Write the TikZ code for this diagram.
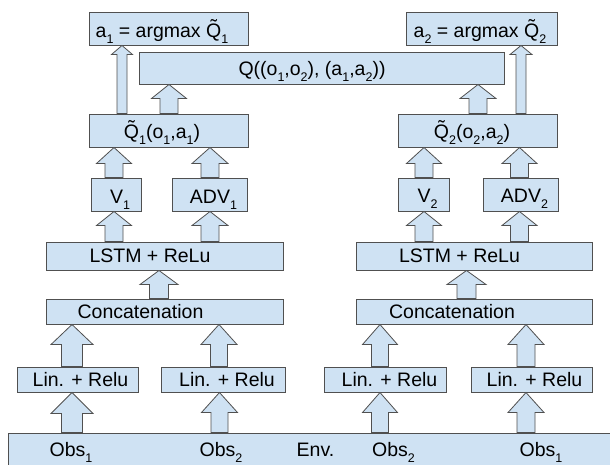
\documentclass[tikz,border=0pt]{standalone}
\usepackage{fontspec}
\setmainfont{Liberation Sans}
\usetikzlibrary{calc}
\definecolor{boxfill}{HTML}{CFE2F3}
\definecolor{boxline}{HTML}{505050}
\newcommand\sbs[1]{\raisebox{-6.5pt}{\fontsize{12.5}{13}\selectfont #1}}
\newcommand\barrow[6]{%
  \draw[blockarrow] let \p1=(#2.north), \p2=(#3.south) in
  ({#1pt-#4pt},\y1) -- ({#1pt-#4pt},\y2-#6pt) -- ({#1pt-#5pt},\y2-#6pt) -- (#1pt,\y2)
  -- ({#1pt+#5pt},\y2-#6pt) -- ({#1pt+#4pt},\y2-#6pt) -- ({#1pt+#4pt},\y1) -- cycle;}
\begin{document}
\begin{tikzpicture}[x=1pt,y=-1pt,
  box/.style={draw=boxline,fill=boxfill,line width=1pt,rectangle,inner sep=0pt},
  blockarrow/.style={draw=boxline,fill=boxfill,line width=0.8pt,line join=miter},
  txt/.style={anchor=base,inner sep=0pt,font=\fontsize{19.5}{22}\selectfont}]
\useasboundingbox (0,0) rectangle (610,464);
\clip (0,0) rectangle (610,464);
% boxes
\node[box,minimum width=159pt,minimum height=33pt] (a1) at (168.5,28.5) {};
\node[box,minimum width=151pt,minimum height=33pt] (a2) at (481.5,28.5) {};
\node[box,minimum width=365pt,minimum height=32pt] (q) at (321.5,68) {};
\node[box,minimum width=159pt,minimum height=33pt] (qt1) at (168.5,130.5) {};
\node[box,minimum width=159pt,minimum height=33pt] (qt2) at (477.5,130.5) {};
\node[box,minimum width=50pt,minimum height=33pt] (v1) at (116,194.5) {};
\node[box,minimum width=75pt,minimum height=33pt] (adv1) at (209.5,194.5) {};
\node[box,minimum width=51pt,minimum height=33pt] (v2) at (423.5,194.5) {};
\node[box,minimum width=75pt,minimum height=33pt] (adv2) at (520.5,194.5) {};
\node[box,minimum width=237pt,minimum height=28pt] (lstm1) at (164.5,256) {};
\node[box,minimum width=236pt,minimum height=28pt] (lstm2) at (474,256) {};
\node[box,minimum width=237pt,minimum height=25pt] (cat1) at (164.5,311.5) {};
\node[box,minimum width=236pt,minimum height=25pt] (cat2) at (474,311.5) {};
\node[box,minimum width=121pt,minimum height=25pt] (lin1) at (77.5,379.5) {};
\node[box,minimum width=124pt,minimum height=25pt] (lin2) at (223,379.5) {};
\node[box,minimum width=122pt,minimum height=25pt] (lin3) at (385,379.5) {};
\node[box,minimum width=121pt,minimum height=25pt] (lin4) at (531.5,379.5) {};
\node[box,minimum width=607pt,minimum height=37pt] (env) at (311.5,451.5) {};
% arrows
\barrow{122}{qt1}{a1}{5}{10.5}{9}
\barrow{169}{qt1}{q}{9}{17.5}{14}
\barrow{478}{qt2}{q}{9}{18}{14}
\barrow{521}{qt2}{a2}{5}{11}{9}
\barrow{114}{v1}{qt1}{9}{17.5}{16}
\barrow{210}{adv1}{qt1}{9}{18}{16}
\barrow{424}{v2}{qt2}{9}{17.5}{16}
\barrow{519.5}{adv2}{qt2}{9}{17.5}{16}
\barrow{114}{lstm1}{v1}{9}{17.5}{14}
\barrow{210}{lstm1}{adv1}{9}{18}{14}
\barrow{424}{lstm2}{v2}{9}{17.5}{14}
\barrow{519.5}{lstm2}{adv2}{9}{17.5}{14}
\barrow{159}{cat1}{lstm1}{9.5}{19}{14}
\barrow{466.5}{cat2}{lstm2}{9.5}{19.5}{14}
\barrow{72}{lin1}{cat1}{10.5}{21}{20}
\barrow{219}{lin2}{cat1}{8.5}{18}{20}
\barrow{380}{lin3}{cat2}{8.5}{17.5}{20}
\barrow{526}{lin4}{cat2}{9}{18}{20}
\barrow{72}{env}{lin1}{10.5}{21}{21}
\barrow{219.5}{env}{lin2}{8.5}{18}{20}
\barrow{380}{env}{lin3}{8.5}{17.5}{20}
\barrow{526}{env}{lin4}{9}{18}{20}
% texts
\node[txt] (ta1) at (162,37) {a\sbs{1} = argmax \~{Q}\sbs{1}};
\node[txt] (ta2) at (480,37) {a\sbs{2} = argmax \~{Q}\sbs{2}};
\node[txt] (tq) at (312,75) {Q((o\sbs{1},o\sbs{2}), (a\sbs{1},a\sbs{2}))};
\node[txt] (tqt1) at (162,138) {\~{Q}\sbs{1}(o\sbs{1},a\sbs{1})};
\node[txt] (tqt2) at (472,138) {\~{Q}\sbs{2}(o\sbs{2},a\sbs{2})};
\node[txt] (tv1) at (120,203) {V\sbs{1}};
\node[txt] (tadv1) at (213.5,203) {ADV\sbs{1}};
\node[txt] (tv2) at (427.5,202) {V\sbs{2}};
\node[txt] (tadv2) at (524.5,202) {ADV\sbs{2}};
\node[txt] (tl1) at (150,262) {LSTM + ReLu};
\node[txt] (tl2) at (459.5,262) {LSTM + ReLu};
\node[txt] (tc1) at (140.5,318) {Concatenation};
\node[txt] (tc2) at (452,318) {Concatenation};
\node[txt] (tr1) at (80.5,386) {Lin. + Relu};
\node[txt] (tr2) at (227,386) {Lin. + Relu};
\node[txt] (tr3) at (389.5,386) {Lin. + Relu};
\node[txt] (tr4) at (534.5,386) {Lin. + Relu};
\node[txt] (to1) at (71,456) {Obs\sbs{1}};
\node[txt] (to2) at (221,456) {Obs\sbs{2}};
\node[txt] (tenv) at (315.5,456) {Env.};
\node[txt] (to3) at (393.5,456) {Obs\sbs{2}};
\node[txt] (to4) at (541,456) {Obs\sbs{1}};
\end{tikzpicture}
\end{document}
